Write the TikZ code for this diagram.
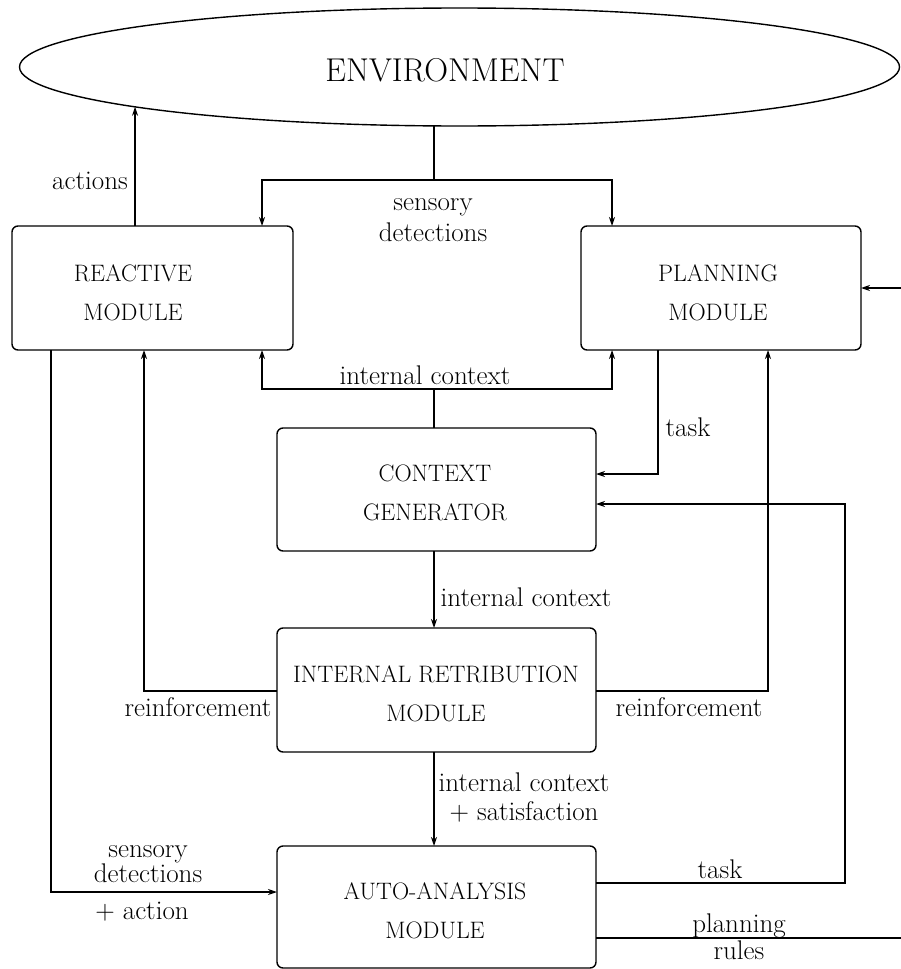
\documentclass[tikz,border=0pt]{standalone}
\usetikzlibrary{arrows.meta,shapes.geometric}
\begin{document}
\begin{tikzpicture}[x=1pt,y=-1pt,line width=1.4pt,
  box/.style={draw,rounded corners=6pt,inner sep=0pt,outer sep=0pt},
  boxtext/.style={align=center,font=\fontsize{23.8}{39}\selectfont},
  lbl/.style={align=center,font=\fontsize{27}{29}\selectfont,inner sep=0pt},
  arr/.style={-{Stealth[length=9pt,width=6pt]}}]
\useasboundingbox (0,0) rectangle (901,969);

% nodes
\node[draw,ellipse,minimum width=880pt,minimum height=118pt,inner sep=0pt,outer sep=0pt] (env) at (459.5,67) {};
\node[font=\fontsize{33}{38}\selectfont] (envtxt) at (445,70) {ENVIRONMENT};

\node[box,minimum width=281pt,minimum height=124pt] (reactive) at (152.5,288) {};
\node[boxtext] (reactivetxt) at (133,292.5) {REACTIVE\\MODULE};
\node[box,minimum width=280pt,minimum height=124pt] (planning) at (721,288) {};
\node[boxtext] (planningtxt) at (718,292.5) {PLANNING\\MODULE};
\node[box,minimum width=319pt,minimum height=123pt] (context) at (436.5,489.5) {};
\node[boxtext] (contexttxt) at (435,493) {CONTEXT\\GENERATOR};
\node[box,minimum width=319pt,minimum height=124pt] (retrib) at (436.5,690) {};
\node[boxtext] (retribtxt) at (436,694) {INTERNAL RETRIBUTION\\MODULE};
\node[box,minimum width=319pt,minimum height=122pt] (auto) at (436.5,907) {};
\node[boxtext] (autotxt) at (435,911) {AUTO-ANALYSIS\\MODULE};

% reference coordinates
\coordinate (j1) at (434,180);
\coordinate (j2) at (434,389);
\coordinate (xc) at (434,0);
\coordinate (xr3) at (262,0);
\coordinate (xp1) at (612,0);
\coordinate (tk) at (658,474);
\coordinate (rf) at (144,691);
\coordinate (rf2) at (768,691);
\coordinate (sd) at (51,892);
\coordinate (tk2) at (845,883);
\coordinate (tkin) at (845,504);
\coordinate (pr) at (915,938);

% connectors
\draw (j1 |- env.south) -- (j1);
\draw[arr] (j1) -| (xr3 |- reactive.north);
\draw[arr] (j1) -| (xp1 |- planning.north);
\draw[arr] (reactive.north -| env.187.42) -- (env.187.42);

\draw (context.north -| j2) -- (j2);
\draw[arr] (j2) -| (xr3 |- reactive.south);
\draw[arr] (j2) -| (xp1 |- planning.south);

\draw[arr] (planning.south -| tk) |- (context.east |- tk);
\draw[arr] (context.south -| xc) -- (retrib.north -| xc);
\draw[arr] (retrib.west |- rf) -| (reactive.south -| rf);
\draw[arr] (retrib.east |- rf2) -| (planning.south -| rf2);
\draw[arr] (retrib.south -| xc) -- (auto.north -| xc);
\draw[arr] (reactive.south -| sd) |- (auto.west |- sd);
\draw[arr] (auto.east |- tk2) -| (tkin) -- (context.east |- tkin);
\draw[arr] (auto.east |- pr) -| (pr |- planning.east) -- (planning.east);

% labels
\node[lbl] (l1) at (90,181) {actions};
\node[lbl,font=\fontsize{27}{31}\selectfont] (l2) at (433,220) {sensory\\detections};
\node[lbl] (l3) at (425,375) {internal context};
\node[lbl] (l4) at (688,427) {task};
\node[lbl] (l5) at (526,597) {internal context};
\node[lbl] (l6) at (198,707) {reinforcement};
\node[lbl] (l7) at (689,707) {reinforcement};
\node[lbl] (l8) at (524,797.5) {internal context\\+ satisfaction};
\node[lbl,font=\fontsize{27}{21}\selectfont] (l9) at (148,864.5) {sensory\\detections};
\node[lbl] (l10) at (142,912) {+ action};
\node[lbl] (l11) at (720,869) {task};
\node[lbl,font=\fontsize{27}{27}\selectfont] (l12) at (739,936.5) {planning\\rules};
\end{tikzpicture}
\end{document}
